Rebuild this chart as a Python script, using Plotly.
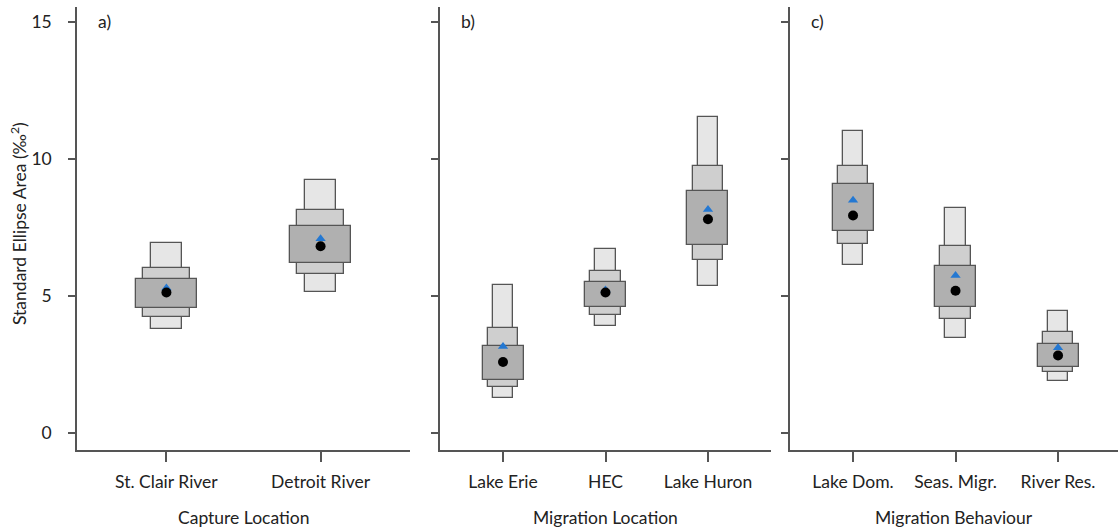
import plotly.graph_objects as go

# ---------------- data ----------------
cats_a = ["St. Clair River", "Detroit River"]
cats_b = ["Lake Erie", "HEC", "Lake Huron"]
cats_c = ["Lake Dom.", "Seas. Migr.", "River Res."]

# credible intervals (low, high) for 95%, 75%, 50%
a_95_lo = [3.78, 5.16]; a_95_hi = [6.92, 9.25]
a_75_lo = [4.25, 5.80]; a_75_hi = [6.01, 8.14]
a_50_lo = [4.56, 6.19]; a_50_hi = [5.61, 7.55]
a_mode = [5.13, 6.82]; a_mean = [5.29, 7.09]

b_95_lo = [1.27, 3.91, 5.36]; b_95_hi = [5.40, 6.72, 11.55]
b_75_lo = [1.69, 4.29, 6.30]; b_75_hi = [3.83, 5.90, 9.73]
b_50_lo = [1.93, 4.60, 6.87]; b_50_hi = [3.18, 5.51, 8.83]
b_mode = [2.59, 5.13, 7.80]; b_mean = [3.16, 5.22, 8.16]

c_95_lo = [6.14, 3.48, 1.90]; c_95_hi = [11.02, 8.22, 4.44]
c_75_lo = [6.89, 4.15, 2.23]; c_75_hi = [9.73, 6.82, 3.69]
c_50_lo = [7.38, 4.59, 2.42]; c_50_hi = [9.08, 6.11, 3.26]
c_mode = [7.94, 5.19, 2.83]; c_mean = [8.50, 5.75, 3.11]

x_titles = ["Capture Location", "Migration Location", "Migration Behaviour"]
panel_labels = ["a)", "b)", "c)"]
y_ticks = [0, 5, 10, 15]

# ---------------- styling ----------------
FONT = "Lato"
FS = 17.5
TXT = "#222222"
fills = ["#e6e6e6", "#cfcfcf", "#b0b0b0"]
widths = [0.2, 0.3, 0.4]
edge = "#555555"

fig = go.Figure()

panels = [
    (cats_a, [(a_95_lo, a_95_hi), (a_75_lo, a_75_hi), (a_50_lo, a_50_hi)], a_mode, a_mean),
    (cats_b, [(b_95_lo, b_95_hi), (b_75_lo, b_75_hi), (b_50_lo, b_50_hi)], b_mode, b_mean),
    (cats_c, [(c_95_lo, c_95_hi), (c_75_lo, c_75_hi), (c_50_lo, c_50_hi)], c_mode, c_mean),
]

for i, (cats, intervals, mode, mean) in enumerate(panels):
    xa = "x" if i == 0 else f"x{i+1}"
    ya = "y" if i == 0 else f"y{i+1}"
    for (lo, hi), col, w in zip(intervals, fills, widths):
        fig.add_trace(go.Bar(
            x=cats, y=[h - l for l, h in zip(lo, hi)], base=lo, width=w,
            marker=dict(color=col, line=dict(color=edge, width=1.3)),
            xaxis=xa, yaxis=ya, showlegend=False, hoverinfo="skip"))
    fig.add_trace(go.Scatter(
        x=cats, y=mean, mode="markers",
        marker=dict(symbol="triangle-up", size=9, color="#2478d2"),
        xaxis=xa, yaxis=ya, showlegend=False))
    fig.add_trace(go.Scatter(
        x=cats, y=mode, mode="markers",
        marker=dict(symbol="circle", size=10, color="black"),
        xaxis=xa, yaxis=ya, showlegend=False))

W, H = 1118, 531
x_doms = [(77 / W, 410 / W), (440 / W, 771 / W), (790 / W, 1.0)]
x_ranges = [[-0.58, 1.58], [-0.615, 2.615], [-0.615, 2.585]]
y_dom = [(H - 450) / H, (H - 7) / H]
y_range = [-0.62, 15.55]

layout = dict(
    width=W, height=H, margin=dict(l=0, r=0, t=0, b=0),
    paper_bgcolor="white", plot_bgcolor="white",
    barmode="overlay", bargap=0,
    font=dict(family=FONT, size=FS, color=TXT),
)

for i in range(3):
    sx = "" if i == 0 else str(i + 1)
    layout[f"xaxis{sx}"] = dict(
        domain=list(x_doms[i]), range=x_ranges[i], type="category",
        showline=True, linecolor=edge, linewidth=1.5,
        ticks="outside", ticklen=10, tickwidth=1.5, tickcolor=edge,
        showgrid=False, zeroline=False, fixedrange=True,
        tickfont=dict(family=FONT, size=FS, color=TXT),
        ticklabelstandoff=5,
        anchor="y" if i == 0 else f"y{i+1}",
    )
    layout[f"yaxis{sx}"] = dict(
        domain=y_dom, range=y_range,
        showline=True, linecolor=edge, linewidth=1.5,
        ticks="outside", ticklen=7, tickwidth=1.5, tickcolor=edge,
        tickvals=y_ticks, showticklabels=(i == 0),
        showgrid=False, zeroline=False,
        tickfont=dict(family=FONT, size=FS, color=TXT),
        ticklabelstandoff=13,
        anchor="x" if i == 0 else f"x{i+1}",
    )

fig.update_layout(**layout)

# axis titles & panel labels
centers = [(77 + 410) / 2 / W, (440 + 771) / 2 / W, (790 + 1118) / 2 / W]
for i in range(3):
    fig.add_annotation(text=x_titles[i], x=centers[i], y=(H - 517) / H,
                       xref="paper", yref="paper", showarrow=False,
                       xanchor="center", yanchor="middle",
                       font=dict(family=FONT, size=FS, color=TXT))
    fig.add_annotation(text=panel_labels[i], x=x_doms[i][0] + 19 / W, y=(H - 22) / H,
                       xref="paper", yref="paper", showarrow=False,
                       xanchor="left", yanchor="middle",
                       font=dict(family=FONT, size=FS, color=TXT))

fig.add_annotation(text="Standard Ellipse Area (‰<sup>2</sup>)", textangle=-90,
                   x=19 / W, y=(H - 224) / H, xref="paper", yref="paper",
                   xanchor="center", yanchor="middle",
                   showarrow=False, font=dict(family=FONT, size=FS, color=TXT))

fig.write_html("out.html")
